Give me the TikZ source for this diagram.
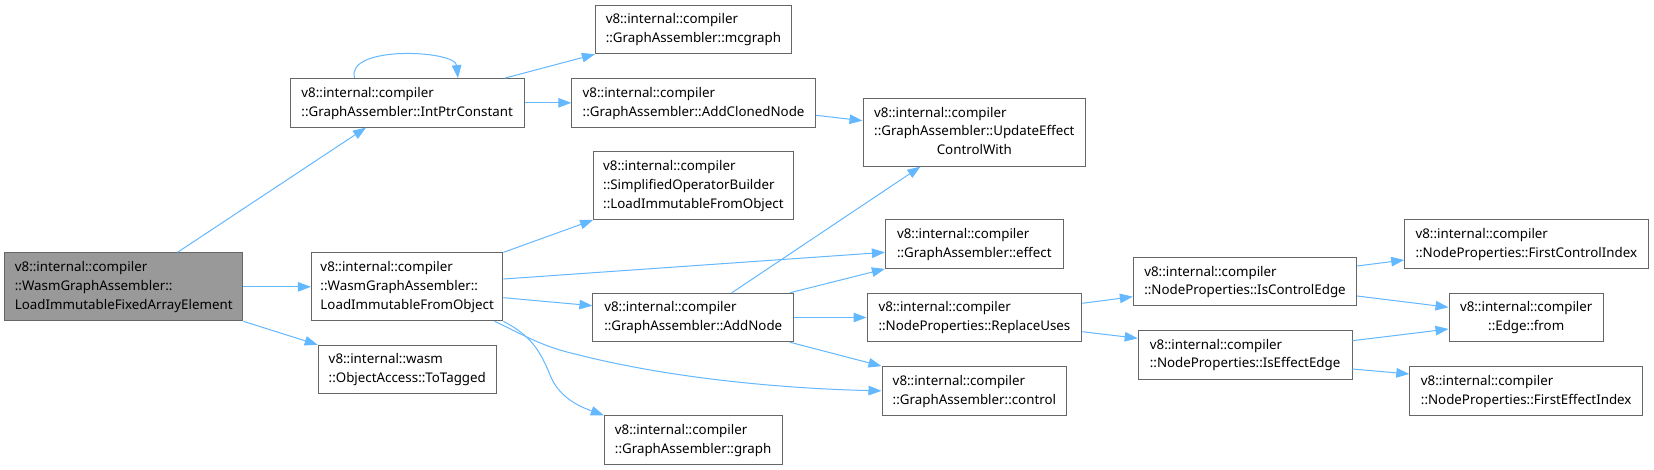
\documentclass[tikz,border=0pt]{standalone}
\usepackage{fontspec}
\setmainfont{Noto Sans}
\usetikzlibrary{arrows.meta}
\definecolor{edgeblue}{HTML}{63B8FF}
\definecolor{boxgray}{HTML}{666666}
\definecolor{maingray}{HTML}{999999}
\newcommand\twol[2]{\begin{tabular}{@{}l@{}}#1\\#2\end{tabular}}
\newcommand\threel[3]{\begin{tabular}{@{}l@{}}#1\\#2\\#3\end{tabular}}
\newcommand\twoc[2]{\begin{tabular}{@{}l@{}}#1\\\multicolumn{1}{@{}c@{}}{#2}\end{tabular}}
\newcommand\threec[3]{\begin{tabular}{@{}l@{}}#1\\#2\\\multicolumn{1}{@{}c@{}}{#3}\end{tabular}}
\begin{document}
\begin{tikzpicture}[x=1pt,y=-1pt,
  fn/.style={draw=boxgray, line width=1pt, fill=white, inner sep=0pt, minimum height=48.5pt,
    font=\fontsize{13.33}{18.8}\selectfont},
  fn3/.style={fn, minimum height=68pt},
  cur/.style={fill=maingray},
  calls/.style={draw=edgeblue, line width=1pt, -{Triangle[length=13pt,width=9.5pt]}}]
\fill[white] (0,0) rectangle (1654,470);
\useasboundingbox (0,0) rectangle (1654,470);
% nodes
\node[fn3,cur,minimum width=238.3pt] (main) at (123.75,286.85) {\threel{v8::internal::compiler}{::WasmGraphAssembler::}{LoadImmutableFixedArrayElement}};
\node[fn,minimum width=233.6pt] (intptr) at (407.2,102.85) {\twol{v8::internal::compiler}{::GraphAssembler::IntPtrConstant}};
\node[fn3,minimum width=191.5pt] (wasm) at (407.15,286.85) {\threel{v8::internal::compiler}{::WasmGraphAssembler::}{LoadImmutableFromObject}};
\node[fn,minimum width=178.2pt] (totagged) at (407.3,369.5) {\twol{v8::internal::wasm}{::ObjectAccess::ToTagged}};
\node[fn,minimum width=196pt] (mcgraph) at (693.4,29.5) {\twol{v8::internal::compiler}{::GraphAssembler::mcgraph}};
\node[fn,minimum width=243.6pt] (addcloned) at (693.6,102.85) {\twol{v8::internal::compiler}{::GraphAssembler::AddClonedNode}};
\node[fn3,minimum width=199.6pt] (simplified) at (693.4,185.5) {\threel{v8::internal::compiler}{::SimplifiedOperatorBuilder}{::LoadImmutableFromObject}};
\node[fn,minimum width=200.7pt] (addnode) at (693.25,317.5) {\twol{v8::internal::compiler}{::GraphAssembler::AddNode}};
\node[fn,minimum width=177.7pt] (graph) at (693.15,440) {\twol{v8::internal::compiler}{::GraphAssembler::graph}};
\node[fn3,minimum width=222.7pt] (update) at (974.35,132.15) {\threec{v8::internal::compiler}{::GraphAssembler::UpdateEffect}{ControlWith}};
\node[fn,minimum width=177.8pt] (effect) at (974.3,244.15) {\twol{v8::internal::compiler}{::GraphAssembler::effect}};
\node[fn,minimum width=214.8pt] (replace) at (974.4,317.5) {\twol{v8::internal::compiler}{::NodeProperties::ReplaceUses}};
\node[fn,minimum width=184.8pt] (control) at (974.4,390.85) {\twol{v8::internal::compiler}{::GraphAssembler::control}};
\node[fn,minimum width=223.3pt] (isctrl) at (1245,281.65) {\twol{v8::internal::compiler}{::NodeProperties::IsControlEdge}};
\node[fn,minimum width=213.8pt] (iseff) at (1245.1,354.8) {\twol{v8::internal::compiler}{::NodeProperties::IsEffectEdge}};
\node[fn,minimum width=243.3pt] (firstctrl) at (1526.35,243.85) {\twol{v8::internal::compiler}{::NodeProperties::FirstControlIndex}};
\node[fn,minimum width=154.4pt] (edgefrom) at (1526.2,317.5) {\twoc{v8::internal::compiler}{::Edge::from}};
\node[fn,minimum width=232.8pt] (firsteff) at (1526.2,391) {\twol{v8::internal::compiler}{::NodeProperties::FirstEffectIndex}};
% edges
\draw[calls] ([xshift=53.75pt]main.north) -- ([xshift=-41.2pt]intptr.south);
\draw[calls] (main.east) -- (wasm.west);
\draw[calls] (main.south east) -- (totagged.north west);
\draw[calls] ([xshift=-52.6pt]intptr.north) .. controls (345,45) and (455,50) .. ([xshift=50.8pt]intptr.north);
\draw[calls] ([xshift=97.8pt]intptr.north) -- (mcgraph.south west);
\draw[calls] (intptr.east) -- (addcloned.west);
\draw[calls] ([yshift=-12.45pt]addcloned.east) -- ([yshift=11.45pt]update.west);
\draw[calls] (wasm.north east) -- (simplified.south west);
\draw[calls] ([yshift=7.85pt]wasm.east) -- ([yshift=-8.15pt]effect.west);
\draw[calls] ([yshift=-10.85pt]wasm.east) -- ([yshift=11.8pt]addnode.west);
\draw[calls] ([xshift=87.45pt]wasm.south) .. controls (520,333) and (540,346) .. (575,354) .. controls (680,381) and (800,389) .. (control.west);
\draw[calls] (wasm.south east) .. controls (530,335) and (540,350) .. (550,375) .. controls (558,395) and (575,405) .. (graph.north west);
\draw[calls] ([xshift=38.55pt]addnode.north) -- ([xshift=-53.95pt]update.south);
\draw[calls] ([xshift=96.75pt]addnode.north) -- (effect.south west);
\draw[calls] (addnode.east) -- (replace.west);
\draw[calls] ([xshift=96.75pt]addnode.south) -- (control.north west);
\draw[calls] ([yshift=14.2pt]replace.east) -- ([yshift=-15.05pt]isctrl.west);
\draw[calls] ([yshift=-14.2pt]replace.east) -- ([yshift=16.5pt]iseff.west);
\draw[calls] ([yshift=15.65pt]isctrl.east) -- ([yshift=-16.15pt]firstctrl.west);
\draw[calls] ([yshift=-14.35pt]isctrl.east) -- ([yshift=10.2pt]edgefrom.west);
\draw[calls] ([yshift=14.1pt]iseff.east) -- ([yshift=-11.5pt]edgefrom.west);
\draw[calls] ([yshift=-14.2pt]iseff.east) -- ([yshift=17pt]firsteff.west);
\end{tikzpicture}
\end{document}
